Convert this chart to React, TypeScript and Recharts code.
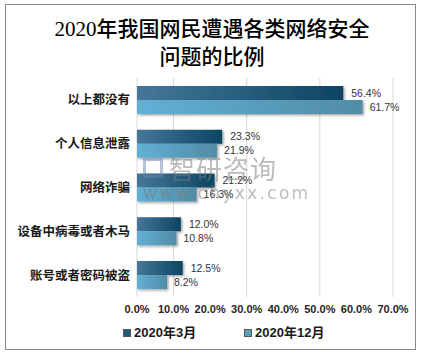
import { BarChart, Bar, XAxis, YAxis, CartesianGrid, LabelList } from 'recharts';

const categories = ['以上都没有', '个人信息泄露', '网络诈骗', '设备中病毒或者木马', '账号或者密码被盗'];
const march = [56.4, 23.3, 21.2, 12.0, 12.5];
const december = [61.7, 21.9, 16.3, 10.8, 8.2];
const xTicks = [0, 10, 20, 30, 40, 50, 60, 70];
const seriesNames = ['2020年3月', '2020年12月'];

const data = categories.map((name, i) => ({ name, mar: march[i], dec: december[i] }));

const cjk = '"Liberation Sans", "Noto Sans CJK SC", sans-serif';
const pct = (v: any) => `${Number(v).toFixed(1)}%`;

export default function App() {
    return (
        <div style={{ position: 'absolute', left: 0, top: 0, width: 424, height: 355, background: '#fff' }}>
            {/* outer frame */}
            <div
                style={{
                    position: 'absolute',
                    left: 5,
                    top: 4,
                    width: 411,
                    height: 346,
                    border: '1.5px solid #8a8a8a',
                    boxSizing: 'border-box'
                }}
            />
            <div
                style={{
                    position: 'absolute',
                    left: 0,
                    top: 15,
                    width: 424,
                    textAlign: 'center',
                    fontFamily: '"Liberation Serif", "Noto Sans CJK SC", serif',
                    fontSize: 21,
                    fontWeight: 500,
                    lineHeight: '28px',
                    color: '#000'
                }}
            >
                <div>2020年我国网民遭遇各类网络安全</div>
                <div>问题的比例</div>
            </div>

            <BarChart
                width={424}
                height={355}
                data={data}
                layout="vertical"
                margin={{ top: 78, right: 31, left: 5, bottom: 28 }}
                barCategoryGap="18%"
                barGap={0}
                style={{ position: 'absolute', left: 0, top: 0 }}
            >
                <defs>
                    <linearGradient id="gMar" x1="0" y1="0" x2="1" y2="0">
                        <stop offset="0%" stopColor="#44779a" />
                        <stop offset="100%" stopColor="#0c4563" />
                    </linearGradient>
                    <linearGradient id="gDec" x1="0" y1="0" x2="1" y2="0">
                        <stop offset="0%" stopColor="#62b0d6" />
                        <stop offset="100%" stopColor="#508ca6" />
                    </linearGradient>
                    <filter id="barShadow" x="-5%" y="-20%" width="115%" height="160%">
                        <feDropShadow dx="1.5" dy="1.5" stdDeviation="1" floodColor="#000" floodOpacity="0.35" />
                    </filter>
                </defs>
                <CartesianGrid horizontal={false} stroke="#d9d9d9" />
                <XAxis
                    type="number"
                    domain={[0, 70]}
                    ticks={xTicks}
                    tickFormatter={pct}
                    axisLine={false}
                    tickLine={false}
                    tick={{ fontSize: 11, fontWeight: 'bold', fill: '#262626', fontFamily: '"Liberation Sans", sans-serif' }}
                />
                <YAxis
                    type="category"
                    dataKey="name"
                    width={132}
                    axisLine={false}
                    tickLine={false}
                    tickMargin={1}
                    tick={{ fontSize: 12.5, fontWeight: 'bold', fill: '#1a1a1a', fontFamily: cjk }}
                />
                <Bar dataKey="mar" fill="url(#gMar)" filter="url(#barShadow)" isAnimationActive={false}>
                    <LabelList
                        dataKey="mar"
                        position="right"
                        offset={8}
                        formatter={pct}
                        style={{ fontSize: 10.5, fill: '#333', fontFamily: '"Liberation Sans", sans-serif' }}
                    />
                </Bar>
                <Bar dataKey="dec" fill="url(#gDec)" filter="url(#barShadow)" isAnimationActive={false}>
                    <LabelList
                        dataKey="dec"
                        position="right"
                        offset={7}
                        formatter={pct}
                        style={{ fontSize: 10.5, fill: '#333', fontFamily: '"Liberation Sans", sans-serif' }}
                    />
                </Bar>
            </BarChart>

            {/* watermark */}
            <div style={{ position: 'absolute', left: 143, top: 154, opacity: 0.5, color: '#7a7a7a', pointerEvents: 'none' }}>
                <div style={{ display: 'flex', alignItems: 'center' }}>
                    <div style={{ width: 20, height: 20, border: '3px solid #6c87b0', boxSizing: 'border-box', marginRight: 6 }} />
                    <span style={{ fontFamily: '"Noto Sans CJK SC"', fontSize: 26, lineHeight: '28px', letterSpacing: 1 }}>智研咨询</span>
                </div>
                <div style={{ fontFamily: '"DejaVu Sans", sans-serif', fontSize: 17, letterSpacing: 2.3, lineHeight: '22px' }}>
                    www.chyxx.com
                </div>
            </div>

            {/* legend */}
            <div
                style={{
                    position: 'absolute',
                    top: 325,
                    left: 123,
                    display: 'flex',
                    alignItems: 'center',
                    fontFamily: cjk,
                    fontSize: 13,
                    fontWeight: 'bold',
                    color: '#1a1a1a',
                    lineHeight: '16px'
                }}
            >
                {seriesNames.map((s, i) => (
                    <div key={s} style={{ display: 'flex', alignItems: 'center', width: 121 }}>
                        <span
                            style={{
                                width: 6,
                                height: 6,
                                marginRight: 3,
                                background: i === 0 ? '#235a7a' : '#5a9fc0',
                                border: '0.5px solid #555'
                            }}
                        />
                        {s}
                    </div>
                ))}
            </div>
        </div>
    );
}
